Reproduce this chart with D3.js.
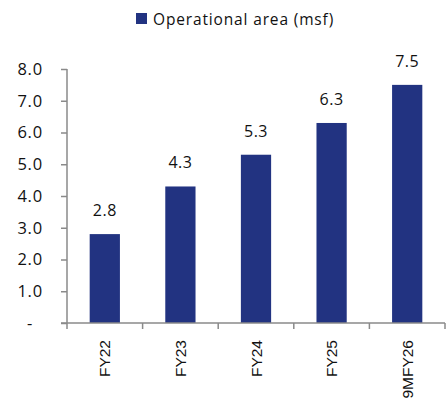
<!DOCTYPE html>
<html>
<head>
<meta charset="utf-8">
<script src="https://cdn.jsdelivr.net/npm/d3@7"></script>
<style>
  html, body { margin: 0; padding: 0; background: #fff; }
  svg { display: block; }
</style>
</head>
<body>
<svg id="chart" width="447" height="408"></svg>
<script>
// Operational area by fiscal period (million sq ft)
const categories = ["FY22", "FY23", "FY24", "FY25", "9MFY26"];
const areaValues = [2.8, 4.3, 5.3, 6.3, 7.5];
const yTickValues = [0, 1, 2, 3, 4, 5, 6, 7, 8];
const seriesName = "Operational area (msf)";

const barColor = "#223381";
const axisColor = "#8a8a8a";
const numFont = "'Open Sans', 'Noto Sans', sans-serif";
const catFont = "'Liberation Sans', Arial, sans-serif";

const svg = d3.select("#chart");
const plot = { left: 67, right: 445, top: 69, bottom: 323 };

const x = d3.scaleBand()
  .domain(categories)
  .range([plot.left, plot.right])
  .paddingInner(0.6)
  .paddingOuter(0.3);

// Category boundaries for the x-axis tick marks
const xEdge = d3.scaleBand()
  .domain(categories)
  .range([plot.left, plot.right])
  .padding(0);

const y = d3.scaleLinear()
  .domain([0, 8])
  .range([plot.bottom, plot.top]);

// Legend
const legend = svg.append("g").attr("transform", "translate(136,13)");
legend.append("rect")
  .attr("width", 11).attr("height", 11)
  .attr("fill", barColor);
legend.append("text")
  .attr("x", 17).attr("y", 11.5)
  .attr("font-family", numFont)
  .attr("font-size", 15.5)
  .attr("letter-spacing", 0.85)
  .attr("fill", "#111")
  .text(seriesName);

// Bars
svg.append("g").selectAll("rect")
  .data(categories.map((c, i) => ({ c, v: areaValues[i] })))
  .join("rect")
  .attr("x", d => x(d.c))
  .attr("y", d => y(d.v))
  .attr("width", x.bandwidth())
  .attr("height", d => y(0) - y(d.v))
  .attr("fill", barColor);

// Value labels
svg.append("g").selectAll("text")
  .data(categories.map((c, i) => ({ c, v: areaValues[i] })))
  .join("text")
  .attr("x", d => x(d.c) + x.bandwidth() / 2)
  .attr("y", d => y(d.v) - 18)
  .attr("text-anchor", "middle")
  .attr("font-family", numFont)
  .attr("font-size", 16)
  .attr("letter-spacing", 0.5)
  .attr("fill", "#111")
  .text(d => d.v.toFixed(1));

// Y axis
const yAxis = svg.append("g")
  .attr("transform", `translate(${plot.left},0)`)
  .call(d3.axisLeft(y)
    .tickValues(yTickValues)
    .tickSize(6)
    .tickPadding(18)
    .tickFormat(d => d === 0 ? "-" : d.toFixed(1)));
yAxis.select(".domain").remove();
yAxis.selectAll(".tick line")
  .attr("stroke", axisColor)
  .attr("stroke-width", 1.5);
yAxis.selectAll(".tick text")
  .attr("font-family", numFont)
  .attr("font-size", 16.5)
  .attr("letter-spacing", 0.8)
  .attr("fill", "#111")
  .attr("dx", d => d === 0 ? -10 : 0);

svg.append("line")
  .attr("x1", plot.left).attr("x2", plot.left)
  .attr("y1", y(8)).attr("y2", y(0) + 6)
  .attr("stroke", axisColor).attr("stroke-width", 1.5);

// X axis
svg.append("line")
  .attr("x1", plot.left - 6).attr("x2", plot.right)
  .attr("y1", y(0)).attr("y2", y(0))
  .attr("stroke", axisColor).attr("stroke-width", 1.5);

const edges = categories.map(c => xEdge(c)).concat([plot.right]);
svg.append("g").selectAll("line")
  .data(edges.slice(1))
  .join("line")
  .attr("x1", d => d).attr("x2", d => d)
  .attr("y1", y(0)).attr("y2", y(0) + 6)
  .attr("stroke", axisColor).attr("stroke-width", 1.5);

svg.append("g").selectAll("text")
  .data(categories)
  .join("text")
  .attr("transform", c => `translate(${x(c) + x.bandwidth() / 2 + 5.5},${y(0) + 17}) rotate(-90)`)
  .attr("text-anchor", "end")
  .attr("font-family", catFont)
  .attr("font-size", 15.5)
  .attr("fill", "#111")
  .text(c => c);
</script>
</body>
</html>
